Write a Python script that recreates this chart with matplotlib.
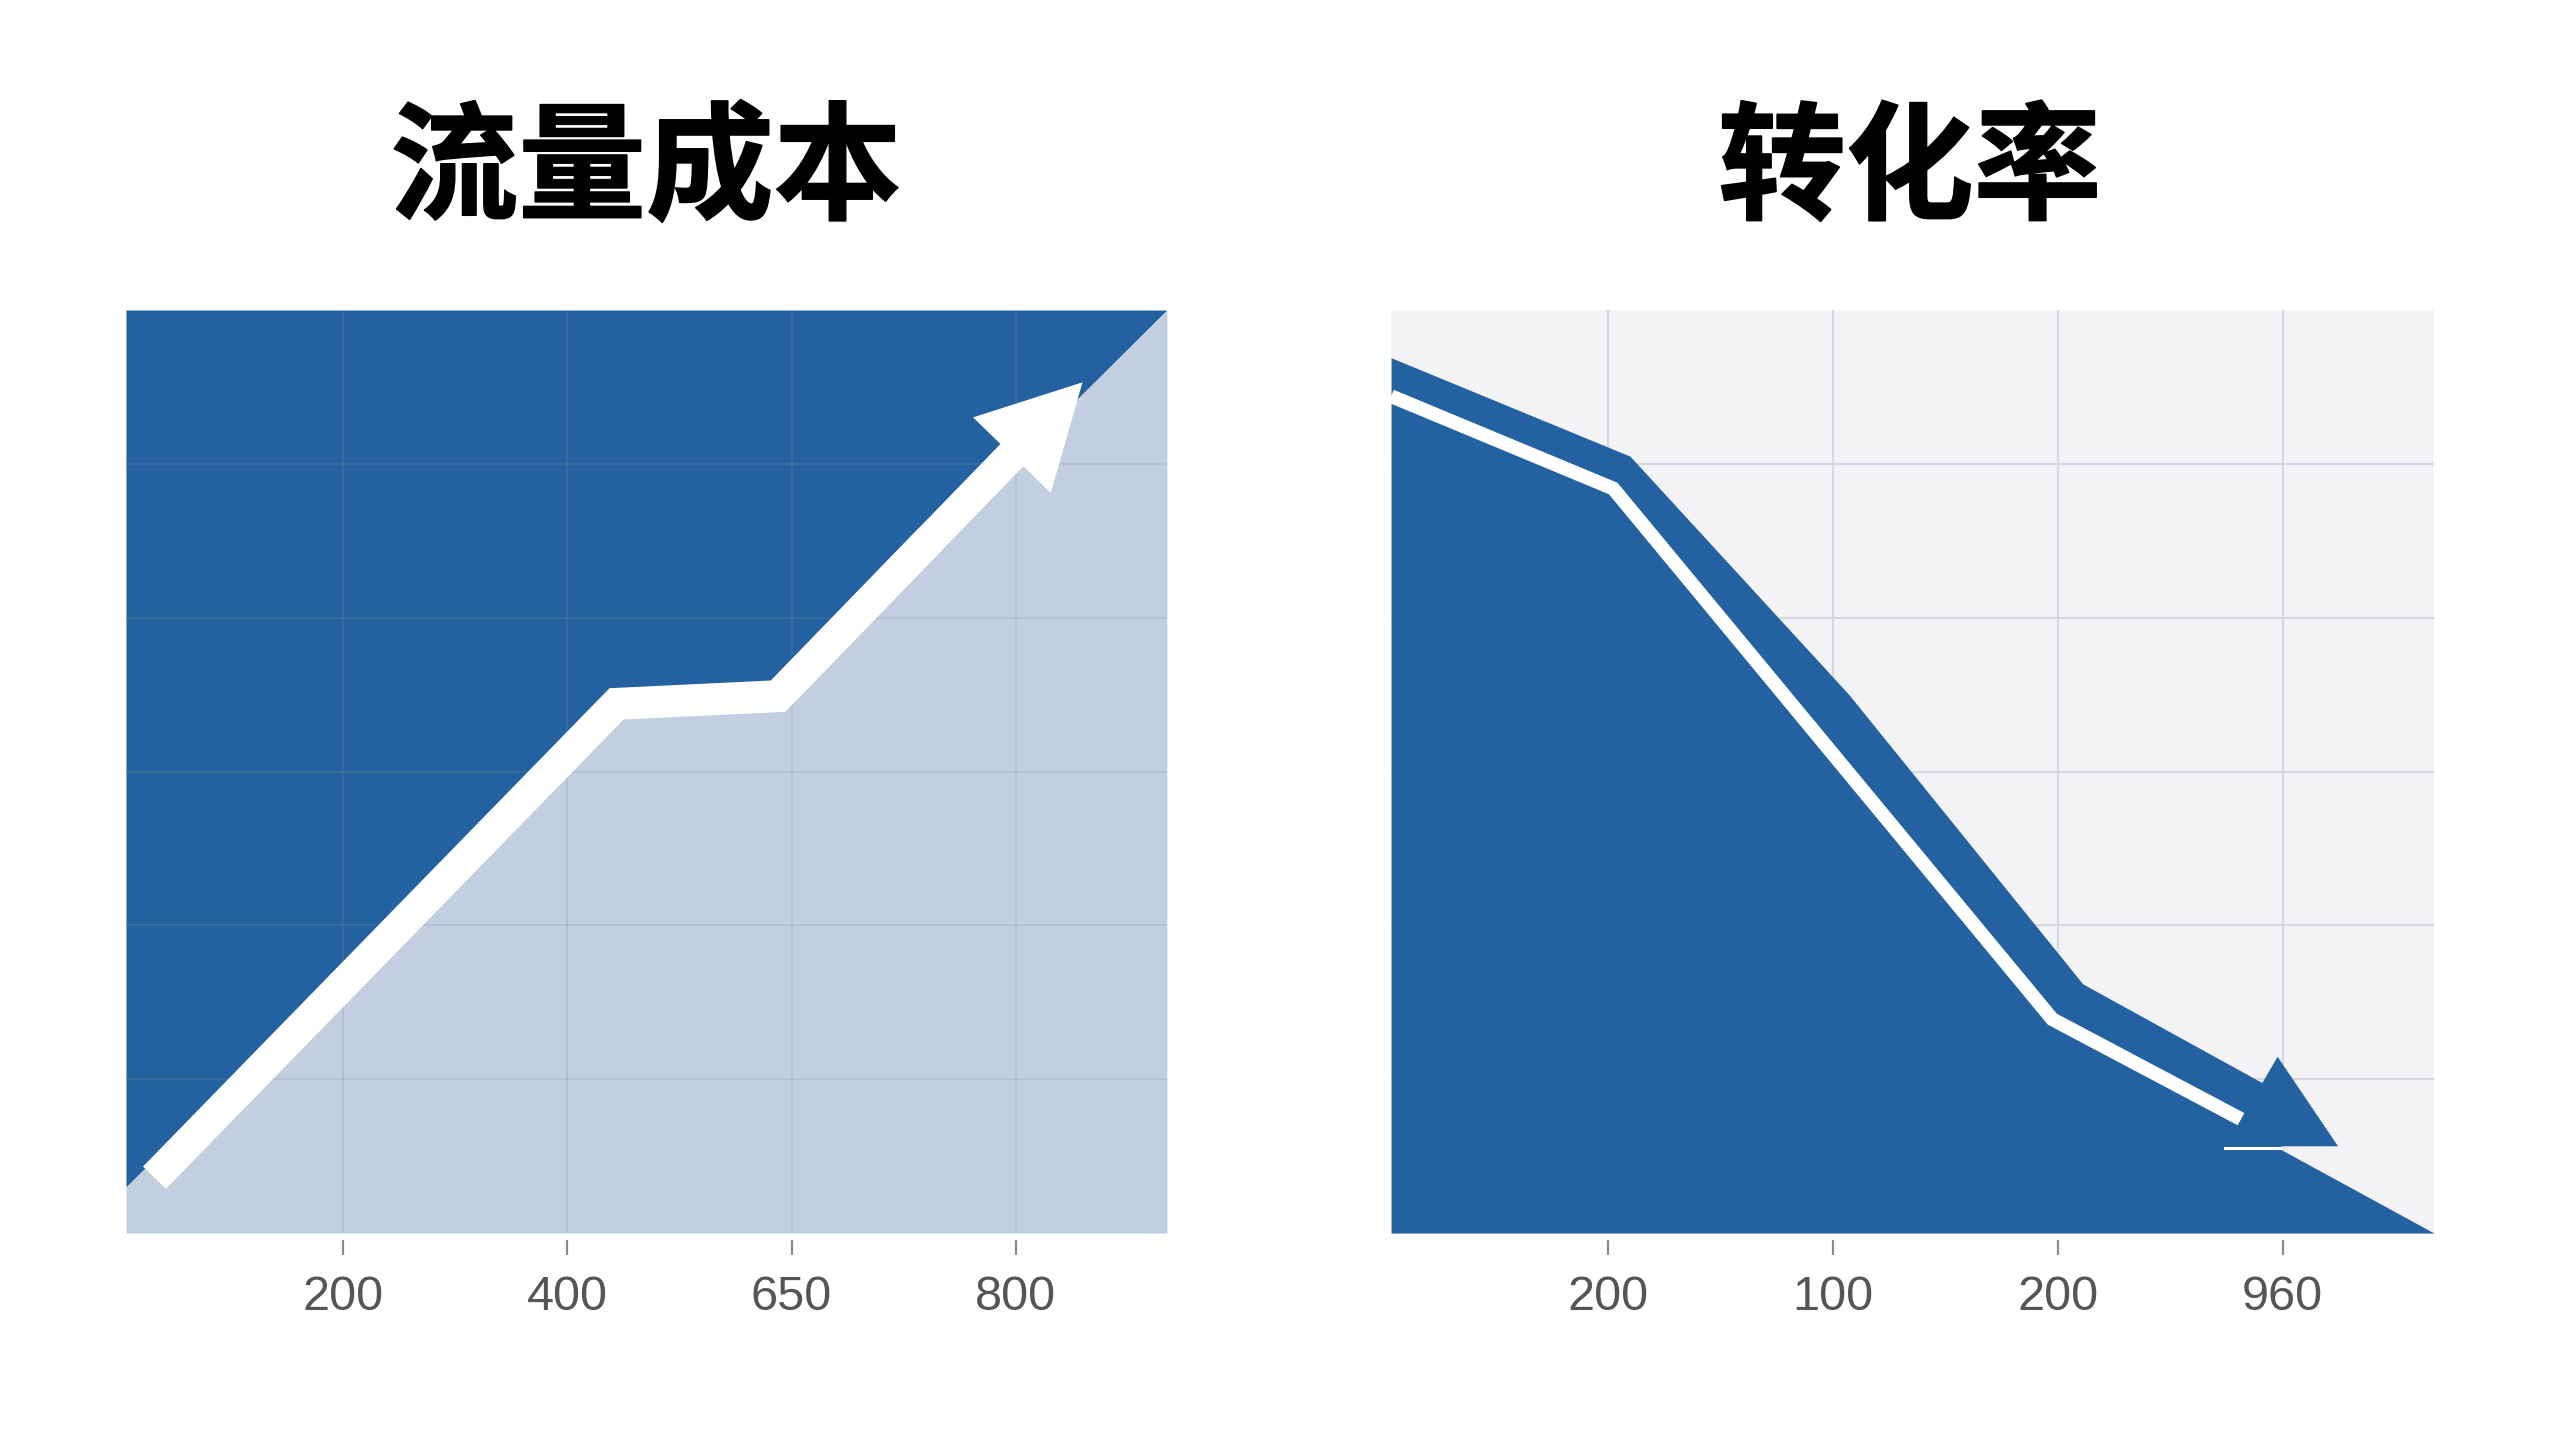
import matplotlib
matplotlib.use('Agg')
import matplotlib.pyplot as plt
from matplotlib.patches import FancyArrowPatch
import matplotlib.patheffects as pe

plt.rcParams['font.family'] = ['Noto Sans CJK SC', 'DejaVu Sans']

DARK = '#2361a0'
LIGHT = '#c3cfe1'
PAPER = '#f3f3f5'

# x positions of the 4 ticks are 1..4, y runs 0..6 (grid at 1..5)
grid_x = [1, 2, 3, 4]
grid_y = [1, 2, 3, 4, 5]

# left panel: 流量成本
cost_title = '流量成本'
cost_ticks = ['200', '400', '650', '800']
cost_x = [0.033, 2.22, 2.94, 4.673]
cost_y = [0.30, 3.44, 3.49, 6.0]
cost_arrow_x = [0.16, 2.22, 2.94, 4.297]
cost_arrow_y = [0.36, 3.44, 3.49, 5.53]

# right panel: 转化率
conv_title = '转化率'
conv_ticks = ['200', '100', '200', '960']
conv_x = [0.033, 1.096, 2.07, 3.11, 3.93, 3.996, 4.673]
conv_y = [5.69, 5.05, 3.50, 1.62, 0.96, 0.54, 0.0]
conv_line_x = [0.033, 1.021, 2.975, 3.815]
conv_line_y = [5.44, 4.84, 1.39, 0.74]
conv_head_x = [3.977, 4.246, 3.745]
conv_head_y = [1.146, 0.564, 0.564]
conv_gap_x = [3.745, 3.99]
conv_gap_y = [0.55, 0.55]


def setup(ax, ticks, grid_color, grid_alpha, below):
    for s in ax.spines.values():
        s.set_visible(False)
    ax.spines['bottom'].set_position(('outward', 5))
    ax.set_xlim(0.033, 4.673)
    ax.set_ylim(0, 6)
    ax.set_xticks(grid_x)
    ax.set_xticklabels(ticks)
    ax.set_yticks(grid_y)
    ax.tick_params(axis='y', left=False, labelleft=False)
    ax.tick_params(axis='x', length=11, width=1.6, color='#8c8c8c', pad=14,
                   labelsize=35, labelcolor='#555555')
    for lab in ax.get_xticklabels():
        lab.set_family(['Liberation Sans', 'DejaVu Sans'])
    ax.set_axisbelow(below)
    ax.grid(True, color=grid_color, lw=1.5, alpha=grid_alpha)


fig = plt.figure(figsize=(25.6, 14.4), dpi=100)
fig.patch.set_facecolor('white')

ax1 = fig.add_axes([0.0492, 0.1437, 0.4066, 0.641])
ax2 = fig.add_axes([0.5434, 0.1437, 0.4074, 0.641])

# ---- left
ax1.fill_between(cost_x, cost_y, 6, color=DARK, lw=0)
ax1.fill_between(cost_x, 0, cost_y, color=LIGHT, lw=0)
setup(ax1, cost_ticks, '#7d8fab', 0.22, False)

# shaft runs half way into the last leg so the bend has a clean miter
mx = cost_arrow_x[2] + 0.5 * (cost_arrow_x[3] - cost_arrow_x[2])
my = cost_arrow_y[2] + 0.5 * (cost_arrow_y[3] - cost_arrow_y[2])
ax1.plot(cost_arrow_x[:3] + [mx], cost_arrow_y[:3] + [my], color='white', lw=23,
         solid_joinstyle='miter', solid_capstyle='butt', zorder=4)
head = FancyArrowPatch((cost_arrow_x[2], cost_arrow_y[2]), (cost_arrow_x[3], cost_arrow_y[3]),
                       arrowstyle='simple,head_length=73,head_width=78,tail_width=23',
                       mutation_scale=1, color='white', lw=0, shrinkA=0, shrinkB=0, zorder=5)
ax1.add_patch(head)

# ---- right
ax2.set_facecolor(PAPER)
ax2.fill_between(conv_x, 0, conv_y, color=DARK, lw=0, zorder=1)
setup(ax2, conv_ticks, '#d6d7e0', 1.0, True)
ax2.plot(conv_line_x, conv_line_y, color='white', lw=10,
         solid_joinstyle='miter', solid_capstyle='butt', zorder=4)
ax2.plot(conv_gap_x, conv_gap_y, color='white', lw=2.2, zorder=4)
ax2.fill(conv_head_x, conv_head_y, color=DARK, lw=0, zorder=5)

# titles
stroke = [pe.withStroke(linewidth=1.2, foreground='black')]
fig.text(0.2523, 0.8805, cost_title, ha='center', va='center', fontsize=92,
         fontweight='black', color='black', path_effects=stroke)
fig.text(0.746, 0.8805, conv_title, ha='center', va='center', fontsize=92,
         fontweight='black', color='black', path_effects=stroke)

fig.savefig('out.png', dpi=100, facecolor='white')
